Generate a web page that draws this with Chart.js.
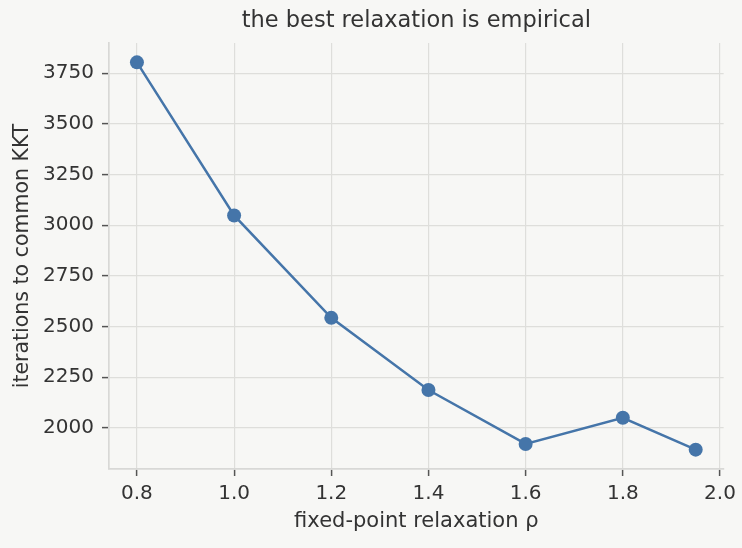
<!DOCTYPE html>
<html>
<head>
<meta charset="utf-8">
<script src="https://cdn.jsdelivr.net/npm/chart.js@4.4.0/dist/chart.umd.min.js"></script>
<style>
    html, body { margin: 0; padding: 0; background: #f7f7f5; }
    #wrap { width: 742px; height: 548px; }
</style>
</head>
<body>
<div id="wrap"><canvas id="relaxChart" width="742" height="548"></canvas></div>
<script>
// values
const relaxation = [0.8, 1.0, 1.2, 1.4, 1.6, 1.8, 1.95];
const iterations = [3803, 3048, 2543, 2187, 1921, 2050, 1893];
const xTicks = [0.8, 1.0, 1.2, 1.4, 1.6, 1.8, 2.0];
const yTicks = [2000, 2250, 2500, 2750, 3000, 3250, 3500, 3750];

// matplotlib-like 5% margins around the data
const pad = (lo, hi) => [lo - (hi - lo) * 0.05, hi + (hi - lo) * 0.05];
const [xMin, xMax] = pad(Math.min(...relaxation), Math.max(...relaxation));
const [yMin, yMax] = pad(Math.min(...iterations), Math.max(...iterations));

const textColor = '#333333';
const gridColor = '#dededb';
const spineColor = '#d8d8d6';
const lineColor = '#4575a9';
const family = "'DejaVu Sans', sans-serif";

const background = {
    id: 'background',
    beforeDraw: (chart) => {
        const ctx = chart.ctx;
        ctx.save();
        ctx.fillStyle = '#f7f7f5';
        ctx.fillRect(0, 0, chart.width, chart.height);
        ctx.restore();
    },
};

const chartRelax = new Chart(document.getElementById('relaxChart'), {
    type: 'line',
    data: {
        datasets: [
            {
                label: 'iterations',
                data: relaxation.map((x, i) => ({ x: x, y: iterations[i] })),
                borderColor: lineColor,
                backgroundColor: lineColor,
                borderWidth: 2.5,
                pointRadius: 7,
                pointBorderWidth: 0,
                pointBackgroundColor: lineColor,
                tension: 0,
            },
        ],
    },
    options: {
        responsive: false,
        animation: false,
        devicePixelRatio: 1,
        layout: { padding: { top: 0, right: 16, bottom: 0, left: 0 } },
        plugins: {
            legend: { display: false },
            tooltip: { enabled: false },
            title: {
                display: true,
                fullSize: false,
                text: 'the best relaxation is empirical',
                color: textColor,
                font: { family: family, size: 22.5, weight: 'normal' },
                padding: { top: 8, bottom: 8 },
            },
        },
        scales: {
            x: {
                type: 'linear',
                min: xMin,
                max: xMax,
                afterBuildTicks: (scale) => {
                    scale.ticks = xTicks.map((v) => ({ value: v }));
                },
                afterFit: (scale) => {
                    scale.height = 79;
                },
                ticks: {
                    callback: (v) => Number(v).toFixed(1),
                    color: textColor,
                    font: { family: family, size: 20 },
                    padding: 6,
                    maxRotation: 0,
                },
                grid: {
                    color: gridColor,
                    lineWidth: 1.2,
                    tickColor: '#555555',
                    tickLength: 7,
                    tickWidth: 1.5,
                },
                border: { color: spineColor, width: 1.7 },
                title: {
                    display: true,
                    text: 'fixed-point relaxation ρ',
                    color: textColor,
                    font: { family: family, size: 21 },
                    padding: { top: 0, bottom: 14 },
                },
            },
            y: {
                type: 'linear',
                min: yMin,
                max: yMax,
                afterBuildTicks: (scale) => {
                    scale.ticks = yTicks.map((v) => ({ value: v }));
                },
                afterFit: (scale) => {
                    scale.width = 109;
                },
                ticks: {
                    callback: (v) => String(v),
                    color: textColor,
                    font: { family: family, size: 20 },
                    padding: 8,
                },
                grid: {
                    color: gridColor,
                    lineWidth: 1.2,
                    tickColor: '#555555',
                    tickLength: 7,
                    tickWidth: 1.5,
                },
                border: { color: spineColor, width: 1.7 },
                title: {
                    display: true,
                    text: 'iterations to common KKT',
                    color: textColor,
                    font: { family: family, size: 20.5 },
                    padding: { top: 10, bottom: 0 },
                },
            },
        },
    },
    plugins: [background],
});
</script>
</body>
</html>
